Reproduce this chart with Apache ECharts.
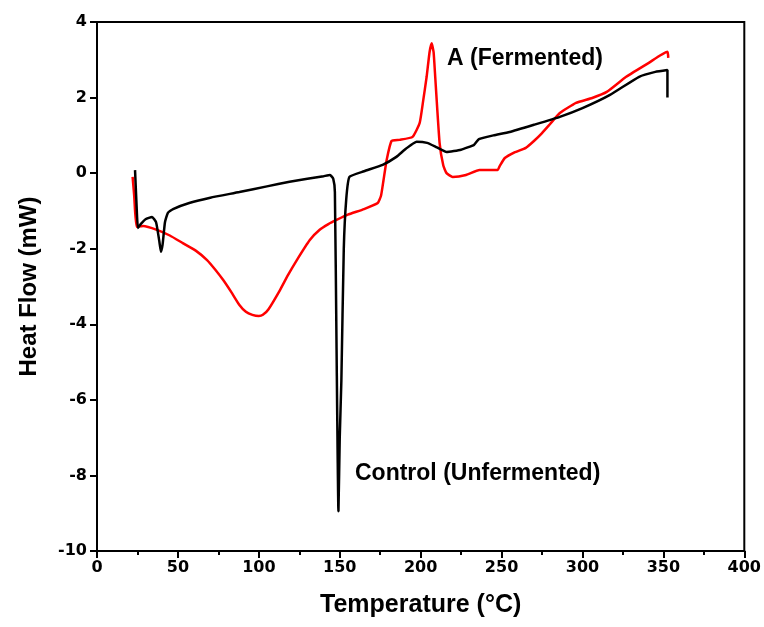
<!DOCTYPE html>
<html>
<head>
<meta charset="utf-8">
<script src="https://cdn.jsdelivr.net/npm/echarts@6/dist/echarts.min.js"></script>
<style>html,body{margin:0;padding:0;background:#fff}#c{width:764px;height:627px}</style>
</head>
<body>
<div id="c"></div>
<script>
const controlT = [23.5, 24.5, 25.3, 27, 30, 34, 36.5, 38.5, 39.5, 40.5, 42, 43.8, 47, 57, 70, 88, 105, 119, 130, 140, 144, 146, 147, 148, 149.2, 150, 151, 152.5, 154, 156, 165, 176.5, 185, 191, 197.5, 204, 210, 216, 225, 233, 236, 245, 255, 270, 286, 300, 317, 335, 345, 352.5, 352.5];
const controlH = [0.08, -0.9, -1.45, -1.35, -1.22, -1.16, -1.3, -1.8, -2.08, -1.9, -1.3, -1.05, -0.95, -0.79, -0.65, -0.5, -0.35, -0.23, -0.15, -0.08, -0.05, -0.15, -0.5, -4.5, -8.95, -7.0, -5.5, -2.0, -0.7, -0.1, 0.05, 0.22, 0.43, 0.65, 0.83, 0.8, 0.68, 0.56, 0.62, 0.75, 0.9, 1.0, 1.09, 1.28, 1.49, 1.72, 2.07, 2.55, 2.68, 2.73, 2.0];
const fermT = [22, 23, 24.5, 28.5, 37, 45, 53, 61, 68, 73, 78, 83, 88, 92, 96, 100, 102.5, 106, 113, 118, 123.5, 131.5, 137.6, 143, 148, 155, 165, 173.5, 175.5, 177, 179, 182, 187, 195, 199.4, 201.5, 203.7, 205.5, 206.8, 208, 209, 211.7, 214, 216, 219.8, 228, 236.4, 247.5, 249, 252, 258, 265, 270, 275, 280, 286, 296, 306, 315, 327, 341, 352.5, 353];
const fermH = [-0.1, -0.6, -1.42, -1.4, -1.5, -1.65, -1.85, -2.05, -2.3, -2.55, -2.83, -3.15, -3.49, -3.67, -3.75, -3.78, -3.75, -3.6, -3.1, -2.7, -2.3, -1.77, -1.5, -1.35, -1.24, -1.1, -0.95, -0.79, -0.6, -0.2, 0.35, 0.85, 0.88, 0.96, 1.33, 1.9, 2.55, 3.2, 3.44, 3.2, 2.55, 0.8, 0.2, 0.0, -0.1, -0.05, 0.08, 0.08, 0.2, 0.4, 0.55, 0.67, 0.85, 1.06, 1.3, 1.59, 1.86, 1.99, 2.15, 2.55, 2.92, 3.21, 3.05];
const xTicks = [0, 50, 100, 150, 200, 250, 300, 350, 400];
const yTicks = [-10, -8, -6, -4, -2, 0, 2, 4];
const seriesNames = ['Control (Unfermented)', 'A (Fermented)'];

const pair = (xs, ys) => xs.map((x, i) => [x, ys[i]]);
const chart = echarts.init(document.getElementById('c'));
const FONT = '"Liberation Sans", Arial, sans-serif';
const TICKFONT = '"DejaVu Sans", sans-serif';
chart.setOption({
  animation: false,
  backgroundColor: '#fff',
  grid: { left: 97, right: 19, top: 22, bottom: 76, show: true, borderColor: '#000', borderWidth: 2, backgroundColor: 'transparent' },
  xAxis: {
    type: 'value', min: xTicks[0], max: xTicks[xTicks.length - 1], interval: 50,
    name: 'Temperature (°C)', nameLocation: 'middle', nameGap: 42,
    nameTextStyle: { fontFamily: FONT, fontWeight: 'bold', fontSize: 25, color: '#000' },
    axisLine: { onZero: false, lineStyle: { color: '#000', width: 2 } },
    axisTick: { inside: false, length: 7, lineStyle: { color: '#000', width: 2 } },
    minorTick: { show: true, splitNumber: 2, length: 4, lineStyle: { color: '#000', width: 2 } },
    axisLabel: { fontFamily: TICKFONT, fontWeight: 'bold', fontSize: 16, color: '#000', margin: 9 },
    splitLine: { show: false }
  },
  yAxis: {
    type: 'value', min: yTicks[0], max: yTicks[yTicks.length - 1], interval: 2,
    name: 'Heat Flow (mW)', nameLocation: 'middle', nameGap: 56,
    nameTextStyle: { fontFamily: FONT, fontWeight: 'bold', fontSize: 24, color: '#000' },
    axisLine: { onZero: false, lineStyle: { color: '#000', width: 2 } },
    axisTick: { inside: false, length: 7, lineStyle: { color: '#000', width: 2 } },
    axisLabel: { fontFamily: TICKFONT, fontWeight: 'bold', fontSize: 16, color: '#000', margin: 10 },
    splitLine: { show: false }
  },
  series: [
    { name: seriesNames[0], type: 'line', data: pair(controlT, controlH), showSymbol: false, smooth: 0.15,
      lineStyle: { color: '#000', width: 2.5 }, z: 3 },
    { name: seriesNames[1], type: 'line', data: pair(fermT, fermH), showSymbol: false, smooth: 0.15,
      lineStyle: { color: '#ff0000', width: 2.5 }, z: 2 }
  ],
  graphic: [
    { type: 'text', left: 447, top: 47, style: { text: seriesNames[1], fontFamily: FONT, fontWeight: 'bold', fontSize: 23, fill: '#000' } },
    { type: 'text', left: 355, top: 462, style: { text: seriesNames[0], fontFamily: FONT, fontWeight: 'bold', fontSize: 23, fill: '#000' } }
  ]
});
</script>
</body>
</html>
